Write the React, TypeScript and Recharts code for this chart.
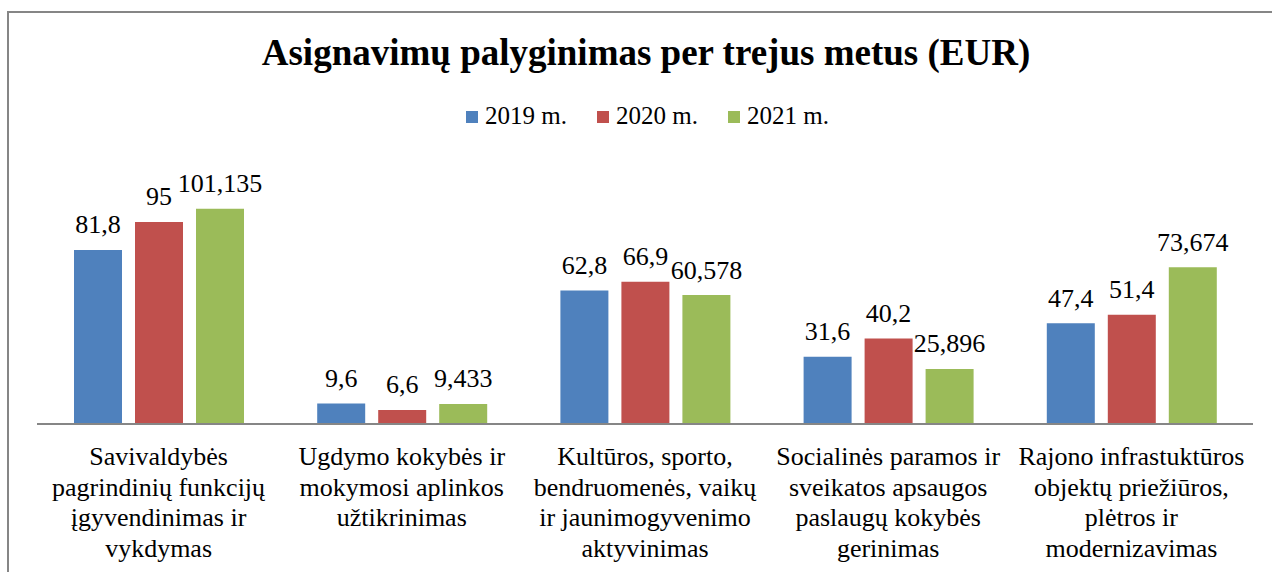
import React from "react";
import { BarChart, Bar, XAxis, YAxis, LabelList } from "recharts";

const categories = [
  "Savivaldybės\npagrindinių funkcijų\nįgyvendinimas ir\nvykdymas",
  "Ugdymo kokybės ir\nmokymosi aplinkos\nužtikrinimas",
  "Kultūros, sporto,\nbendruomenės, vaikų\nir jaunimogyvenimo\naktyvinimas",
  "Socialinės paramos ir\nsveikatos apsaugos\npaslaugų kokybės\ngerinimas",
  "Rajono infrastuktūros\nobjektų priežiūros,\nplėtros ir\nmodernizavimas",
];
const values2019 = [81.8, 9.6, 62.8, 31.6, 47.4];
const values2020 = [95, 6.6, 66.9, 40.2, 51.4];
const values2021 = [101.135, 9.433, 60.578, 25.896, 73.674];
const seriesKeys = ["y2019", "y2020", "y2021"];
const seriesNames = ["2019 m.", "2020 m.", "2021 m."];
const seriesColors = ["#4F81BD", "#C0504D", "#9BBB59"];
const titleText = "Asignavimų palyginimas per trejus metus (EUR)";

const data = categories.map((c, i) => ({
  category: c,
  y2019: values2019[i],
  y2020: values2020[i],
  y2021: values2021[i],
}));

const FONT = "'Liberation Serif', 'Times New Roman', Times, serif";
const fmt = (v: number) => String(v).replace(".", ",");
const textStyle = { fontFamily: FONT };

const renderLabel = (props: any) => {
  const { x, y, width, value } = props;
  return (
    <text
      x={Number(x) + Number(width) / 2}
      y={Number(y) - 16.5}
      textAnchor="middle"
      fontSize={26}
      style={textStyle}
      fill="#000"
    >
      {fmt(value)}
    </text>
  );
};

const CategoryTick = (props: any) => {
  const { x, y, payload } = props;
  const lines = String(payload.value).split("\n");
  return (
    <g>
      {lines.map((ln: string, i: number) => (
        <text
          key={i}
          x={x}
          y={Number(y) + 41 + i * 30.5}
          textAnchor="middle"
          fontSize={26}
          style={textStyle}
          fill="#000"
        >
          {ln}
        </text>
      ))}
    </g>
  );
};

export default function App() {
  return (
    <div
      style={{
        position: "absolute",
        left: 7,
        top: 11,
        width: 1265,
        height: 561,
        borderLeft: "2px solid #868686",
        borderTop: "2px solid #868686",
        boxSizing: "border-box",
        overflow: "hidden",
        background: "#fff",
        fontFamily: FONT,
      }}
    >
      <BarChart
        width={1263}
        height={559}
        data={data}
        margin={{ top: 155.7, right: 19, left: 28, bottom: 0 }}
        barSize={48}
        barGap={13}
      >
        <XAxis
          dataKey="category"
          height={148}
          interval={0}
          tickLine={false}
          tickSize={0}
          tickMargin={0}
          axisLine={{ stroke: "#868686", strokeWidth: 2 }}
          tick={<CategoryTick />}
        />
        <YAxis hide domain={[0, 120]} />
        {seriesKeys.map((k, i) => (
          <Bar key={k} dataKey={k} name={seriesNames[i]} fill={seriesColors[i]} isAnimationActive={false}>
            <LabelList dataKey={k} content={renderLabel} />
          </Bar>
        ))}
      </BarChart>
      <svg
        width={1263}
        height={559}
        style={{ position: "absolute", left: 0, top: 0, pointerEvents: "none" }}
      >
        <text x={637} y={52} textAnchor="middle" fontSize={37} fontWeight="bold" style={textStyle} fill="#000">
          {titleText}
        </text>
        {seriesNames.map((n, i) => (
          <g key={n}>
            <rect x={457 + i * 131} y={98} width={12} height={12} fill={seriesColors[i]} />
            <text x={476 + i * 131} y={111} fontSize={25} style={textStyle} fill="#000">
              {n}
            </text>
          </g>
        ))}
      </svg>
    </div>
  );
}
